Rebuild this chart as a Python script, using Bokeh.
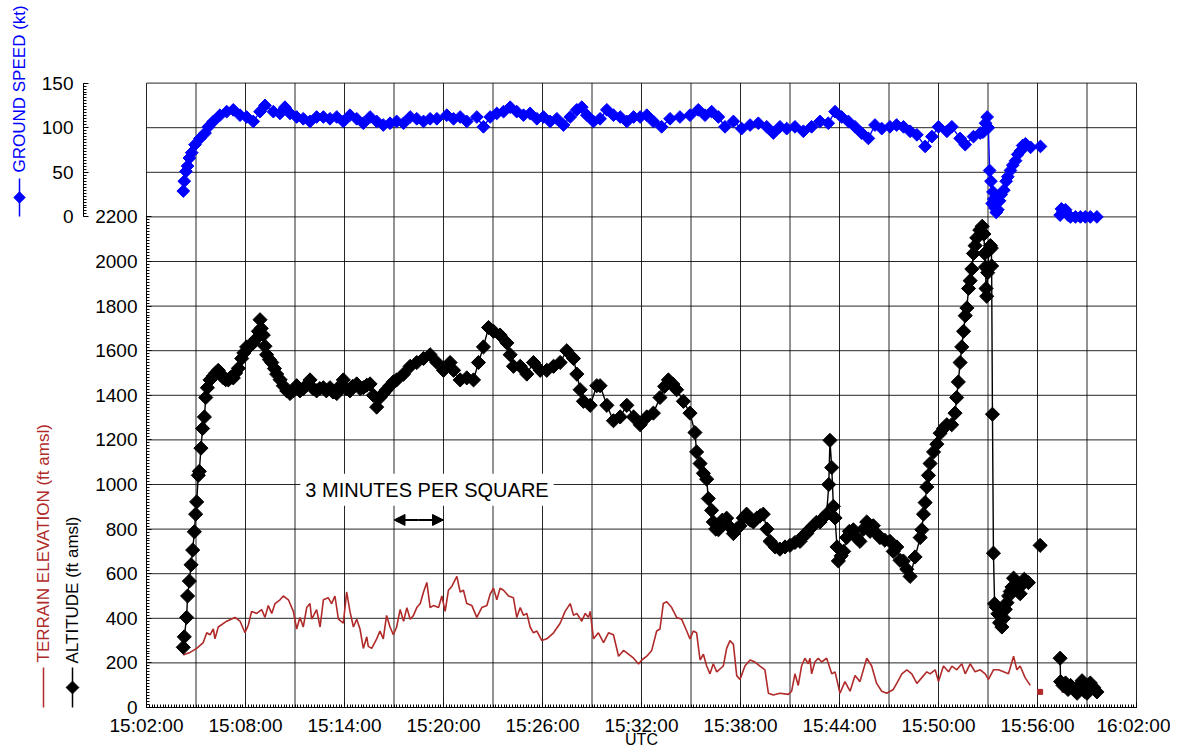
import math
from bokeh.plotting import figure
from bokeh.models import (Range1d, LinearAxis, FixedTicker, Label, Arrow, NormalHead,
                          ColumnDataSource)
from bokeh.embed import file_html
from bokeh.resources import INLINE

nan = float("nan")

# ---------------- data (time = minutes after 15:00 UTC) ----------------
x_tick_minutes = [2, 8, 14, 20, 26, 32, 38, 44, 50, 56, 62]
x_tick_labels = ["15:02:00", "15:08:00", "15:14:00", "15:20:00", "15:26:00", "15:32:00",
                 "15:38:00", "15:44:00", "15:50:00", "15:56:00", "16:02:00"]
grid_minutes = list(range(2, 63, 3))          # "3 minutes per square"
alt_ticks = [0, 200, 400, 600, 800, 1000, 1200, 1400, 1600, 1800, 2000, 2200]
speed_ticks = [0, 50, 100, 150]

alt_t = [4.23, 4.29, 4.43, 4.49, 4.60, 4.70, 4.80, 4.90, 4.98, 5.04, 5.14, 5.20, 5.30, 5.40,
         5.51, 5.59, 5.69, 5.85, 6.05, 6.20, 6.35, 6.50, 6.66, 6.80, 6.96, 7.10, 7.26, 7.40,
         7.57, 7.77, 7.90, 8.07, 8.25, 8.47, 8.60, 8.78, 8.88, 8.95, 9.08, 9.18, 9.28, 9.45,
         9.59, 9.75, 9.89, 10.10, 10.29, 10.50, 10.70, 10.90, 11.10, 11.30, 11.50, 11.70,
         11.91, 12.10, 12.31, 12.50, 12.72, 12.90, 13.12, 13.30, 13.53, 13.70, 13.93, 14.10,
         14.33, 14.50, 14.74, 14.95, 15.14, 15.35, 15.55, 15.75, 15.95, 16.15, 16.35, 16.55,
         16.76, 16.96, 17.16, 17.58, 17.98, 18.38, 18.79, 19.19, 19.60, 20.00, 20.40, 20.61,
         21.01, 21.41, 21.82, 22.12, 22.42, 22.73, 23.03, 23.43, 23.84, 24.04, 24.24, 24.65,
         25.05, 25.45, 25.86, 26.26, 26.67, 27.07, 27.47, 27.88, 28.08, 28.28, 28.48, 28.89,
         29.29, 29.49, 29.90, 30.30, 30.71, 31.11, 31.52, 31.92, 32.32, 32.72, 33.12, 33.40,
         33.63, 33.90, 34.13, 34.54, 34.94, 35.24, 35.34, 35.55, 35.75, 35.95, 36.05, 36.25,
         36.35, 36.50, 36.66, 36.90, 37.16, 37.35, 37.57, 37.77, 37.97, 38.17, 38.37, 38.60,
         38.78, 39.00, 39.20, 39.38, 39.60, 39.79, 40.10, 40.39, 40.70, 41.00, 41.30, 41.61,
         41.80, 42.01, 42.20, 42.41, 42.60, 42.82, 43.00, 43.22, 43.35, 43.42, 43.53, 43.63,
         43.73, 43.85, 43.93, 44.10, 44.25, 44.43, 44.60, 44.84, 45.05, 45.24, 45.45, 45.65,
         45.85, 46.05, 46.25, 46.45, 46.75, 47.06, 47.26, 47.47, 47.67, 47.87, 48.08, 48.28,
         48.58, 48.89, 48.99, 49.09, 49.19, 49.29, 49.39, 49.49, 49.70, 49.90, 50.10, 50.30,
         50.50, 50.80, 51.00, 51.10, 51.20, 51.31, 51.41, 51.52, 51.62, 51.72, 51.82, 51.92,
         52.02, 52.12, 52.22, 52.32, 52.50, 52.65, 52.75, 52.80, 52.85, 52.88, 52.92, 52.98,
         53.05, 53.15, 53.20, 53.22, 53.27, 53.33, 53.40, 53.50, 53.60, 53.70, 53.84, 53.95,
         54.05, 54.15, 54.25, 54.35, 54.45, 54.55, 54.65, 54.75, 54.85, 54.95, 55.05, 55.20,
         55.45, 55.80, 56.16, 56.70, 57.37, 57.40, 57.55, 57.70, 57.85, 58.00, 58.20, 58.40,
         58.55, 58.70, 58.85, 59.00, 59.20, 59.40, 59.60]
altitude = [270, 317, 404, 500, 567, 640, 706, 788, 867, 922, 1041, 1059, 1163, 1251,
            1303, 1390, 1434, 1469, 1486, 1500, 1512, 1495, 1478, 1470, 1469, 1480, 1478, 1500,
            1521, 1565, 1590, 1617, 1620, 1635, 1650, 1687, 1739, 1700, 1670, 1620, 1582, 1560,
            1547, 1520, 1495, 1470, 1443, 1420, 1408, 1420, 1443, 1420, 1430, 1445,
            1469, 1430, 1420, 1430, 1434, 1420, 1434, 1415, 1408, 1440, 1469, 1430,
            1420, 1440, 1451, 1430, 1434, 1445, 1451, 1400, 1347, 1390, 1408, 1425,
            1443, 1460, 1469, 1495, 1530, 1547, 1565, 1582, 1547, 1512, 1547, 1512,
            1469, 1478, 1469, 1547, 1617, 1704, 1687, 1670, 1635, 1582, 1530, 1530,
            1495, 1547, 1512, 1512, 1530, 1547, 1600, 1565, 1495, 1425, 1373, 1355,
            1443, 1443, 1355, 1286, 1303, 1355, 1303, 1268, 1303, 1320, 1390, 1440,
            1469, 1450, 1425, 1373, 1320, 1233, 1146, 1094, 1050, 1024, 937, 884,
            832, 800, 797, 840, 849, 810, 780, 800, 815, 850, 867, 840,
            832, 850, 860, 867, 800, 745, 720, 710, 720, 727, 740, 745,
            770, 780, 800, 815, 830, 832, 850, 867, 1000, 1198, 1076, 902,
            850, 720, 657, 680, 700, 762, 790, 797, 760, 745, 800, 832,
            790, 815, 780, 762, 750, 745, 700, 720, 660, 657, 620, 588,
            675, 762, 797, 867, 919, 989, 1041, 1094, 1146, 1181, 1230, 1251,
            1268, 1268, 1320, 1390, 1460, 1547, 1617, 1687, 1757, 1792, 1879, 1914,
            1966, 2036, 2071, 2106, 2141, 2158, 2123, 2036, 1975, 1879, 1844, 1950,
            2050, 2071, 2060, 1980, 1315, 692, 465, 450, 420, 380, 361, 400,
            440, 470, 500, 520, 540, 580, 530, 560, 540, 510, 550, 575,
            560, nan, 727, nan, 221, 116, 99, 110, 81, 99, 81, 64,
            99, 120, 73, 64, 110, 90, 70]

terrain_t = [4.23, 4.33, 4.64, 5.04, 5.44, 5.65, 5.85, 6.05, 6.15, 6.35, 6.86, 7.36, 7.67,
             7.97, 8.17, 8.37, 8.68, 8.98, 9.18, 9.38, 9.59, 9.79, 10.09, 10.29, 10.60, 10.90,
             11.10, 11.30, 11.50, 11.71, 11.91, 12.01, 12.31, 12.52, 12.72, 13.02, 13.22, 13.42,
             13.63, 13.93, 14.13, 14.33, 14.54, 14.74, 14.94, 15.14, 15.35, 15.44, 15.65, 15.95,
             16.15, 16.35, 16.55, 16.76, 16.96, 17.16, 17.37, 17.58, 17.78, 17.98, 18.18, 18.38,
             18.59, 18.79, 18.99, 19.19, 19.39, 19.70, 19.90, 20.10, 20.30, 20.51, 20.81, 21.01,
             21.21, 21.41, 21.72, 22.02, 22.32, 22.63, 22.83, 23.03, 23.23, 23.43, 23.64, 23.94,
             24.24, 24.44, 24.65, 24.85, 25.05, 25.25, 25.45, 25.66, 25.96, 26.26, 26.67, 27.07,
             27.37, 27.68, 27.88, 28.08, 28.38, 28.59, 28.79, 28.89, 29.09, 29.39, 29.70, 30.00,
             30.30, 30.61, 30.91, 31.21, 31.52, 31.82, 32.02, 32.32, 32.62, 32.92, 33.12, 33.32,
             33.53, 33.83, 34.13, 34.43, 34.74, 34.94, 35.14, 35.34, 35.55, 35.75, 35.95, 36.15,
             36.35, 36.56, 36.96, 37.16, 37.36, 37.57, 37.77, 37.97, 38.27, 38.58, 38.88, 39.18,
             39.48, 39.69, 39.99, 40.39, 40.90, 41.10, 41.30, 41.50, 41.70, 41.90, 42.11, 42.21,
             42.31, 42.51, 42.71, 42.92, 43.22, 43.53, 43.73, 44.03, 44.33, 44.64, 44.94, 45.24,
             45.65, 45.95, 46.25, 46.56, 46.86, 47.26, 47.47, 47.78, 48.08, 48.38, 48.69, 48.99,
             49.29, 49.49, 49.80, 50.00, 50.30, 50.61, 50.81, 51.11, 51.41, 51.62, 51.92, 52.22,
             52.53, 52.83, 53.03, 53.33, 53.64, 53.94, 54.24, 54.55, 54.75, 54.95, 55.25, 55.56,
             55.90, 56.16, 56.80, 57.45, 58.00, 58.50, 59.40]
terrain = [235, 239, 247, 265, 291, 335, 326, 352, 308, 361, 387, 404, 387,
           335, 370, 431, 422, 439, 404, 457, 422, 466, 483, 500, 483, 431,
           352, 404, 361, 448, 466, 396, 439, 361, 483, 492, 466, 500,
           396, 378, 518, 431, 361, 396, 352, 265, 317, 274, 265, 308,
           343, 308, 413, 361, 326, 361, 439, 387, 448, 396, 413, 448,
           466, 518, 561, 448, 457, 448, 500, 431, 526, 544, 588, 518,
           526, 466, 457, 404, 448, 457, 509, 535, 483, 535, 526, 500,
           492, 404, 448, 413, 422, 361, 335, 343, 300, 308, 335, 378,
           431, 466, 413, 422, 387, 422, 404, 431, 308, 335, 291, 335,
           326, 230, 256, 239, 221, 195, 213, 230, 256, 343, 352, 466,
           474, 448, 404, 396, 343, 308, 343, 335, 213, 239, 186, 151,
           196, 160, 186, 265, 300, 283, 143, 126, 186, 213, 204, 186,
           169, 64, 56, 64, 59, 73, 151, 99, 186, 221, 196, 221,
           151, 204, 221, 204, 221, 151, 160, 64, 116, 73, 143, 116,
           221, 186, 108, 73, 64, 81, 108, 151, 169, 151, 108, 134,
           160, 151, 169, 116, 186, 160, 186, 169, 196, 151, 196, 160,
           169, 151, 126, 169, 169, 160, 151, 230, 169, 186, 134, 99,
           nan, 70, nan, 70, 70, 70, 70]

speed_t = [4.23, 4.29, 4.39, 4.49, 4.60, 4.74, 4.94, 5.24, 5.55, 5.75, 6.05, 6.45, 6.86,
           7.26, 7.67, 8.07, 8.47, 8.88, 9.18, 9.69, 10.09, 10.39, 10.70, 11.10, 11.50, 11.91,
           12.31, 12.72, 13.12, 13.53, 13.93, 14.33, 14.74, 15.14, 15.55, 15.95, 16.35, 16.76,
           17.16, 17.58, 17.98, 18.38, 18.79, 19.19, 19.60, 20.20, 20.61, 21.01, 21.41, 22.02,
           22.42, 22.83, 23.23, 23.64, 24.04, 24.44, 24.85, 25.25, 25.66, 26.06, 26.46, 26.87,
           27.27, 27.68, 28.08, 28.38, 28.69, 29.09, 29.49, 29.90, 30.30, 30.71, 31.11, 31.52,
           31.92, 32.32, 32.72, 33.22, 33.73, 34.33, 34.94, 35.44, 35.85, 36.25, 36.66, 37.06,
           37.57, 38.07, 38.58, 39.08, 39.59, 39.99, 40.39, 40.80, 41.30, 41.81, 42.31, 42.82,
           43.32, 43.73, 44.13, 44.54, 44.94, 45.34, 45.75, 46.15, 46.56, 47.06, 47.46, 47.88,
           48.28, 48.69, 49.19, 49.60, 50.00, 50.51, 50.81, 51.31, 51.62, 52.12, 52.53, 52.70,
           52.85, 52.95, 53.02, 53.10, 53.18, 53.25, 53.30, 53.35, 53.42, 53.50, 53.60, 53.70,
           53.80, 53.96, 54.10, 54.20, 54.36, 54.50, 54.67, 54.80, 54.97, 55.10, 55.27, 55.58,
           55.90, 56.18, 56.70, 57.37, 57.45, 57.55, 57.70, 57.85, 58.00, 58.30, 58.60, 58.90,
           59.20, 59.60]
speed = [29, 40, 51, 57, 66, 72, 81, 88, 94, 101, 107, 114, 118,
         120, 114, 112, 107, 118, 125, 118, 116, 123, 116, 112, 110, 107,
         112, 112, 110, 112, 107, 114, 110, 105, 112, 107, 103, 105,
         107, 105, 112, 110, 107, 110, 110, 114, 110, 112, 107, 112,
         101, 112, 116, 118, 123, 118, 114, 116, 110, 112, 107, 110,
         103, 112, 120, 123, 114, 107, 110, 120, 114, 112, 107, 112,
         112, 114, 107, 101, 110, 112, 114, 120, 114, 118, 112, 101,
         107, 99, 103, 105, 101, 94, 101, 99, 101, 96, 101, 107,
         105, 118, 112, 107, 101, 94, 88, 103, 99, 101, 103, 101,
         96, 92, 79, 90, 101, 96, 101, 88, 81, 90, 94, 95,
         105, 112, 100, 52, 40, 15, 28, 20, 10, 5, 8, 18,
         25, 30, 40, 45, 52, 58, 63, 70, 74, 80, 82, 78,
         nan, 79, nan, 2, 9, 6, 8, 2, 0, 0, 0, 0,
         0, 0]

# ---------------- layout constants (pixels) ----------------
W, H = 1170, 748
FRAME_LEFT, FRAME_RIGHT, AX_BOTTOM = 146, 1136, 707     # 15:02 / 16:02 / 0 ft
PX_PER_MIN = (FRAME_RIGHT - FRAME_LEFT) / 60.0
PX_PER_FT = 0.223
SPEED_BASE_FT, FT_PER_KT = 2200.0, 4.0                 # speed panel stacked on top
SPEED_AXIS_PX = 83

def px_to_min(px):
    return 2 + (px - FRAME_LEFT) / PX_PER_MIN

def py_to_ft(py):
    return (AX_BOTTOM - py) / PX_PER_FT

BLUE = "#0000ff"
BROWN = "#b02a2a"
FONT = "Liberation Sans"

y0, y1 = py_to_ft(H), py_to_ft(0)
p = figure(width=W, height=H, output_backend="svg", toolbar_location=None,
           x_range=Range1d(px_to_min(0), px_to_min(W)), y_range=Range1d(y0, y1),
           x_axis_location=None, y_axis_location=None,
           min_border=0, min_border_left=0, min_border_right=0,
           min_border_top=0, min_border_bottom=0)
p.extra_y_ranges = {"speed": Range1d((y0 - SPEED_BASE_FT) / FT_PER_KT,
                                     (y1 - SPEED_BASE_FT) / FT_PER_KT)}
p.outline_line_color = None
p.xgrid.visible = False
p.ygrid.visible = False
p.background_fill_color = "white"
p.border_fill_color = "white"

top_ft = SPEED_BASE_FT + speed_ticks[-1] * FT_PER_KT
GRID = dict(line_color="black", line_width=1, line_alpha=0.85)
# vertical grid (3-minute squares, incl. frame edges)
p.segment(x0=grid_minutes, y0=[0] * len(grid_minutes), x1=grid_minutes,
          y1=[top_ft] * len(grid_minutes), **GRID)
# horizontal grid - altitude panel
p.segment(x0=[2] * 11, y0=alt_ticks[1:], x1=[62] * 11, y1=alt_ticks[1:], **GRID)
# horizontal grid - ground-speed panel
p.segment(x0=[2] * 3, y0=speed_ticks[1:], x1=[62] * 3, y1=speed_ticks[1:],
          y_range_name="speed", **GRID)

def style_axis(ax, standoff):
    ax.major_label_text_font = FONT
    ax.major_label_text_font_size = "19px"
    ax.major_label_text_color = "black"
    ax.major_label_standoff = standoff
    ax.major_tick_in = 5
    ax.major_tick_out = 0
    ax.minor_tick_in = 3
    ax.minor_tick_out = 0
    ax.axis_line_color = "black"
    ax.major_tick_line_color = "black"
    ax.minor_tick_line_color = "black"

xa = LinearAxis(fixed_location=0, bounds=(2, 62),
                ticker=FixedTicker(ticks=x_tick_minutes,
                                   minor_ticks=[2 + i / 6 for i in range(0, 361)]))
xa.major_label_overrides = {m: lab for m, lab in zip(x_tick_minutes, x_tick_labels)}
style_axis(xa, 7)
p.add_layout(xa, "below")

ax_alt = LinearAxis(fixed_location=2, bounds=(0, 2200),
                    ticker=FixedTicker(ticks=alt_ticks,
                                       minor_ticks=[i * 200 / 15 for i in range(0, 166)]))
style_axis(ax_alt, 9)
p.add_layout(ax_alt, "left")

ax_spd = LinearAxis(y_range_name="speed", fixed_location=px_to_min(SPEED_AXIS_PX),
                    bounds=(0, 150),
                    ticker=FixedTicker(ticks=speed_ticks,
                                       minor_ticks=[i * 50 / 15 for i in range(0, 46)]))
style_axis(ax_spd, 10)
p.add_layout(ax_spd, "left")

# ---------------- series ----------------
src_alt = ColumnDataSource(dict(t=alt_t, v=altitude))
src_ter = ColumnDataSource(dict(t=terrain_t, v=terrain))
src_spd = ColumnDataSource(dict(t=speed_t, v=speed))

p.line("t", "v", source=src_ter, line_color=BROWN, line_width=1.6)
iso_t, iso_v = [], []
for i, v in enumerate(terrain):
    prev_nan = i == 0 or math.isnan(terrain[i - 1])
    next_nan = i == len(terrain) - 1 or math.isnan(terrain[i + 1])
    if not math.isnan(v) and prev_nan and next_nan:
        iso_t.append(terrain_t[i]); iso_v.append(v)
p.scatter(iso_t, iso_v, marker="square", size=5, fill_color=BROWN, line_color=BROWN)

p.line("t", "v", source=src_alt, line_color="black", line_width=1.4)
p.scatter("t", "v", source=src_alt, marker="square", angle=math.pi / 4, size=10,
          fill_color="black", line_color="black")

p.line("t", "v", source=src_spd, y_range_name="speed", line_color=BLUE, line_width=1.4)
p.scatter("t", "v", source=src_spd, y_range_name="speed", marker="square",
          angle=math.pi / 4, size=9, fill_color=BLUE, line_color=BLUE)

# ---------------- annotations ----------------
p.add_layout(Label(x=19.0, y=976, text="3 MINUTES PER SQUARE", text_font=FONT,
                   text_font_size="20px", text_color="black", text_align="center",
                   text_baseline="middle", background_fill_color="white", padding=5))
for x_end in (17, 20):
    p.add_layout(Arrow(x_start=18.5, y_start=841, x_end=x_end, y_end=841, line_width=2,
                       line_color="black",
                       end=NormalHead(size=11, fill_color="black", line_color="black")))

side = dict(x_units="screen", y_units="screen", angle=math.pi / 2, text_font=FONT,
            text_font_size="17px", text_align="left", text_baseline="middle")
p.add_layout(Label(x=19, y=H - 172, text="GROUND SPEED (kt)", text_color=BLUE, **side))
p.add_layout(Label(x=43, y=H - 662, text="TERRAIN ELEVATION (ft amsl)",
                   text_color=BROWN, **side))
p.add_layout(Label(x=72, y=H - 663, text="ALTITUDE (ft amsl)", text_color="black", **side))

# legend keys (line + diamond) beside the rotated labels
p.segment(x0=[px_to_min(19)], y0=[py_to_ft(178)], x1=[px_to_min(19)], y1=[py_to_ft(216)],
          line_color=BLUE, line_width=1.5)
p.scatter([px_to_min(19)], [py_to_ft(197)], marker="square", angle=math.pi / 4, size=8,
          fill_color=BLUE, line_color=BLUE)
p.segment(x0=[px_to_min(43)], y0=[py_to_ft(667)], x1=[px_to_min(43)], y1=[py_to_ft(707)],
          line_color=BROWN, line_width=1.5)
p.segment(x0=[px_to_min(72)], y0=[py_to_ft(667)], x1=[px_to_min(72)], y1=[py_to_ft(707)],
          line_color="black", line_width=1.5)
p.scatter([px_to_min(72)], [py_to_ft(687)], marker="square", angle=math.pi / 4, size=9,
          fill_color="black", line_color="black")

p.add_layout(Label(x=32, y=1, x_units="data", y_units="screen", text="UTC",
                   text_font=FONT, text_font_size="16px", text_color="black",
                   text_align="center", text_baseline="bottom"))

open("out.html", "w").write(file_html(p, INLINE))
